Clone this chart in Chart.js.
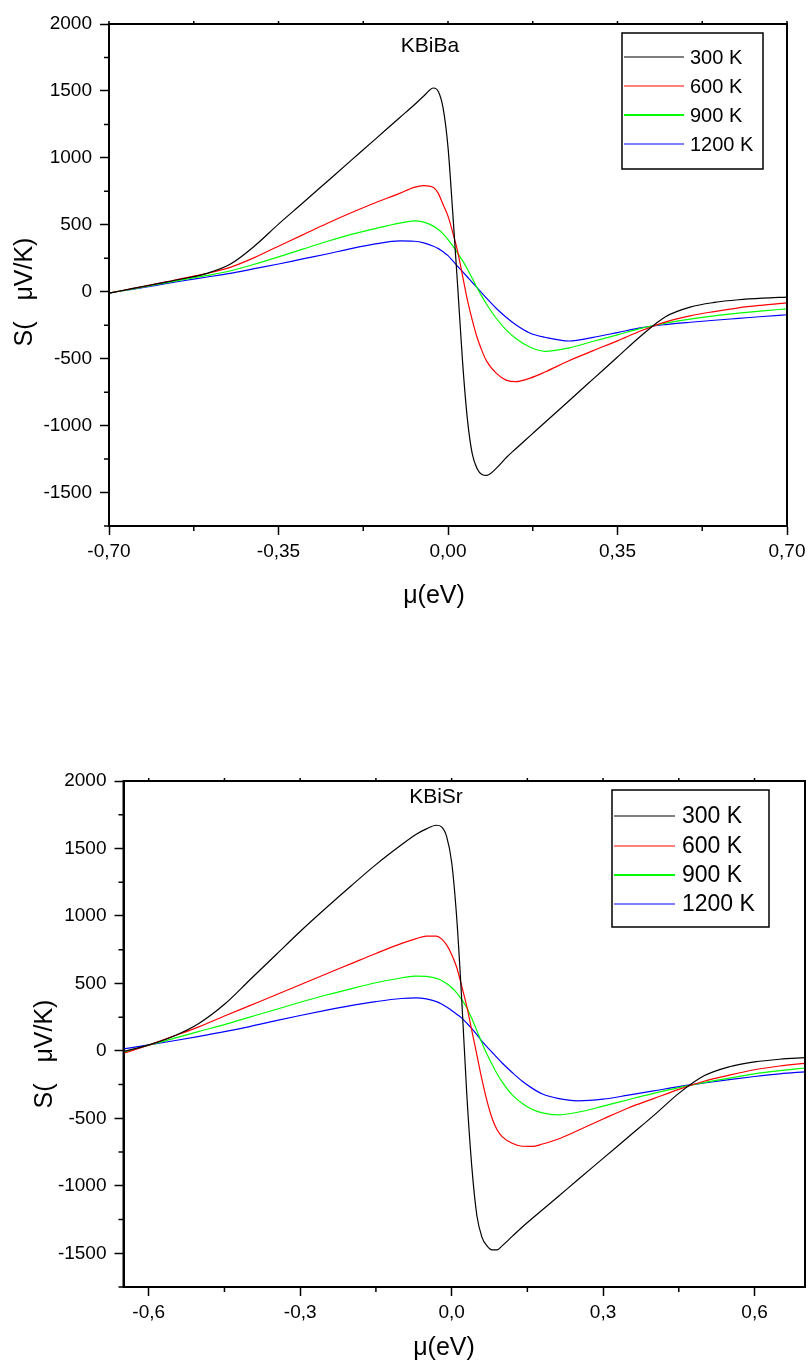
<!DOCTYPE html>
<html>
<head>
<meta charset="utf-8">
<title>Seebeck coefficient</title>
<script src="https://cdn.jsdelivr.net/npm/chart.js@4.4.0/dist/chart.umd.min.js"></script>
<style>
body { margin: 0; background: #fff; }
#wrap { position: relative; width: 808px; height: 1363px; }
canvas { position: absolute; left: 0; }
</style>
</head>
<body>
<div id="wrap">
  <canvas id="chartBa" width="808" height="620" style="top:0px"></canvas>
  <canvas id="chartSr" width="808" height="743" style="top:620px"></canvas>
</div>
<script>
// ---- data ----
var labels = ['300 K', '600 K', '900 K', '1200 K'];
var colors = ['#000000', '#ff0000', '#00ff00', '#0000ff'];

// KBiBa
var baMu = [-0.70,-0.65,-0.60,-0.55,-0.50,-0.45,-0.40,-0.35,-0.30,-0.25,-0.20,-0.15,-0.10,-0.07,-0.05,-0.03,-0.02,-0.01,
            0.00,0.01,0.02,0.03,0.04,0.05,0.06,0.07,0.08,0.10,0.12,0.14,0.17,0.20,0.25,0.30,0.35,0.40,0.45,0.50,0.55,0.60,0.65,0.70];
var ba300 = [-10,25,60,95,135,205,340,505,663,822,981,1140,1300,1395,1462,1522,1495,1370,
             1080,580,40,-520,-950,-1210,-1320,-1365,-1372,-1318,-1240,-1173,-1075,-977,-814,-651,-488,-325,-185,-115,-80,-60,-48,-40];
var ba600 = [-10,25,60,98,135,182,255,340,425,510,590,665,735,780,793,778,735,650,
             565,440,300,120,-60,-210,-340,-440,-520,-610,-660,-672,-645,-600,-515,-440,-367,-290,-225,-180,-148,-120,-100,-83];
var ba900 = [-10,22,55,88,120,155,205,260,318,375,428,472,512,530,520,490,465,432,
             390,342,288,232,170,100,30,-35,-95,-200,-285,-349,-415,-445,-420,-370,-322,-272,-235,-205,-180,-160,-143,-128];
var ba1200 = [-10,20,50,80,108,137,172,207,245,282,322,357,380,377,365,340,322,298,
              270,230,190,150,110,70,30,-10,-50,-125,-190,-246,-310,-340,-368,-341,-305,-268,-245,-228,-213,-199,-185,-172];

// KBiSr
var srMu = [-0.65,-0.60,-0.55,-0.50,-0.45,-0.40,-0.35,-0.30,-0.25,-0.20,-0.15,-0.10,-0.07,-0.05,-0.03,-0.02,-0.01,
            0.00,0.01,0.02,0.03,0.04,0.05,0.06,0.07,0.08,0.09,0.10,0.12,0.14,0.16,0.18,0.21,0.25,0.30,0.35,0.40,0.45,0.50,0.55,0.60,0.65,0.70];
var sr300 = [-5,44,110,205,345,525,705,885,1055,1220,1380,1525,1605,1645,1672,1660,1590,
             1400,990,380,-320,-860,-1220,-1380,-1445,-1475,-1475,-1445,-1375,-1305,-1240,-1178,-1083,-955,-797,-638,-480,-315,-185,-118,-82,-62,-50];
var sr600 = [-19,42,110,180,258,335,412,490,568,645,722,795,832,850,850,830,785,
             715,620,480,330,150,-30,-212,-370,-497,-585,-635,-685,-707,-708,-690,-655,-590,-505,-423,-354,-285,-225,-180,-140,-112,-92];
var sr900 = [-10,42,92,145,195,250,305,360,412,460,505,540,554,552,537,522,500,
             470,430,380,320,240,150,60,-25,-99,-170,-230,-326,-390,-435,-460,-474,-455,-410,-362,-315,-272,-235,-202,-170,-147,-127];
var sr1200 = [15,44,75,108,142,180,222,262,300,335,365,388,393,385,365,348,325,
              300,272,243,205,165,120,72,30,-10,-50,-90,-160,-225,-278,-320,-352,-370,-358,-328,-297,-265,-238,-213,-190,-170,-155];

var yTicks = [-1500, -1000, -500, 0, 500, 1000, 1500, 2000];
var yMinor = [-1750, -1250, -750, -250, 250, 750, 1250, 1750];
var baXTicks = [-0.70, -0.35, 0.00, 0.35, 0.70];
var baXMinor = [-0.525, -0.175, 0.175, 0.525];
var srXTicks = [-0.6, -0.3, 0.0, 0.3, 0.6];
var srXMinor = [-0.45, -0.15, 0.15, 0.45];

var FONT = "'Liberation Sans', Arial, sans-serif";

// frame, minor ticks, legend box and the texts
var decor = {
  id: 'decor',
  afterDraw: function(chart, args, o) {
    var ctx = chart.ctx, a = chart.chartArea;
    var xs = chart.scales.x, ys = chart.scales.y;
    ctx.save();
    ctx.strokeStyle = '#000';
    ctx.lineWidth = 2;
    ctx.strokeRect(a.left, a.top, a.right - a.left, a.bottom - a.top);

    ctx.lineWidth = 1.5;
    ctx.beginPath();
    o.xMinor.forEach(function(v) {
      var px = xs.getPixelForValue(v);
      ctx.moveTo(px, a.bottom); ctx.lineTo(px, a.bottom + 5);
      ctx.moveTo(px, a.top); ctx.lineTo(px, a.top - 3);
    });
    o.xTicks.forEach(function(v) {
      var px = xs.getPixelForValue(v);
      ctx.moveTo(px, a.top); ctx.lineTo(px, a.top - 3);
    });
    yMinor.forEach(function(v) {
      var py = ys.getPixelForValue(v);
      ctx.moveTo(a.left, py); ctx.lineTo(a.left - 5, py);
    });
    ctx.stroke();

    // legend
    var L = o.legend;
    ctx.lineWidth = 1.5;
    ctx.strokeRect(L.x, L.y, L.w, L.h);
    ctx.font = L.size + 'px ' + FONT;
    ctx.textAlign = 'left';
    ctx.textBaseline = 'middle';
    ctx.fillStyle = '#000';
    chart.data.datasets.forEach(function(ds, i) {
      var ry = L.rows[i];
      ctx.strokeStyle = ds.borderColor;
      ctx.lineWidth = i == 2 ? 2.2 : 1.2;
      ctx.beginPath();
      ctx.moveTo(L.x + 2, ry); ctx.lineTo(L.x + L.line, ry);
      ctx.stroke();
      ctx.fillText(ds.label, L.x + L.text, ry + 1);
    });

    // title inside plot
    ctx.textAlign = 'center';
    ctx.font = o.name.size + 'px ' + FONT;
    ctx.fillText(o.name.text, o.name.x, o.name.y);

    // axis titles
    ctx.font = '25px ' + FONT;
    ctx.fillText('\u03bc(eV)', o.xTitle.x, o.xTitle.y);
    ctx.save();
    ctx.translate(o.yTitle.x, o.yTitle.y);
    ctx.rotate(-Math.PI / 2);
    ctx.fillText('S(   \u03bcV/K)', 0, 0);
    ctx.restore();
    ctx.restore();
  }
};

function makeChart(id, mu, series, xMin, xMax, xTicks, digits, box, deco) {
  var datasets = [];
  for (var i = 0; i < series.length; i++) {
    datasets.push({
      label: labels[i],
      borderColor: colors[i],
      borderWidth: 1.2,
      pointRadius: 0,
      cubicInterpolationMode: 'monotone',
      data: mu.map(function(x, k) { return { x: x, y: series[i][k] }; })
    });
  }
  var tickFont = { family: FONT, size: 19 };
  return new Chart(document.getElementById(id), {
    type: 'line',
    data: { datasets: datasets },
    plugins: [decor],
    options: {
      responsive: false,
      animation: false,
      layout: { padding: { top: box.top, right: box.right, left: 0, bottom: 0 } },
      plugins: { legend: { display: false }, tooltip: { enabled: false }, decor: deco },
      scales: {
        x: {
          type: 'linear', min: xMin, max: xMax,
          grid: { drawOnChartArea: false, tickLength: 9, tickWidth: 1.5, tickColor: '#000' },
          border: { color: '#000', width: 2 },
          ticks: {
            color: '#000', font: tickFont, padding: 5, maxRotation: 0,
            callback: function(v) { return v.toFixed(digits).replace('.', ','); }
          },
          afterBuildTicks: function(s) { s.ticks = xTicks.map(function(v) { return { value: v }; }); },
          afterFit: function(s) { s.height = box.xh; s.paddingLeft = 0; s.paddingRight = 0; }
        },
        y: {
          min: -1750, max: 2000,
          grid: { drawOnChartArea: false, tickLength: 9, tickWidth: 1.5, tickColor: '#000' },
          border: { color: '#000', width: 2 },
          ticks: { color: '#000', font: tickFont, padding: 8, callback: function(v) { return String(v); } },
          afterBuildTicks: function(s) { s.ticks = yTicks.map(function(v) { return { value: v }; }); },
          afterFit: function(s) { s.width = box.yw; s.paddingTop = 0; s.paddingBottom = 0; }
        }
      }
    }
  });
}

makeChart('chartBa', baMu, [ba300, ba600, ba900, ba1200], -0.70, 0.70, baXTicks, 2,
  { top: 24, right: 21, xh: 94, yw: 109 },
  { xMinor: baXMinor, xTicks: baXTicks,
    legend: { x: 622, y: 33, w: 141, h: 136, line: 62, text: 68, size: 20, rows: [57, 86, 115, 144] },
    name: { text: 'KBiBa', x: 430, y: 46, size: 21 },
    xTitle: { x: 434, y: 596 }, yTitle: { x: 25, y: 292 } });

makeChart('chartSr', srMu, [sr300, sr600, sr900, sr1200], -0.65, 0.70, srXTicks, 1,
  { top: 161, right: 3, xh: 76, yw: 123.5 },
  { xMinor: srXMinor, xTicks: srXTicks,
    legend: { x: 612, y: 170, w: 157, h: 137, line: 63, text: 70, size: 23, rows: [196, 226, 255, 284] },
    name: { text: 'KBiSr', x: 436, y: 177, size: 21 },
    xTitle: { x: 444, y: 728 }, yTitle: { x: 45, y: 434 } });
</script>
</body>
</html>
